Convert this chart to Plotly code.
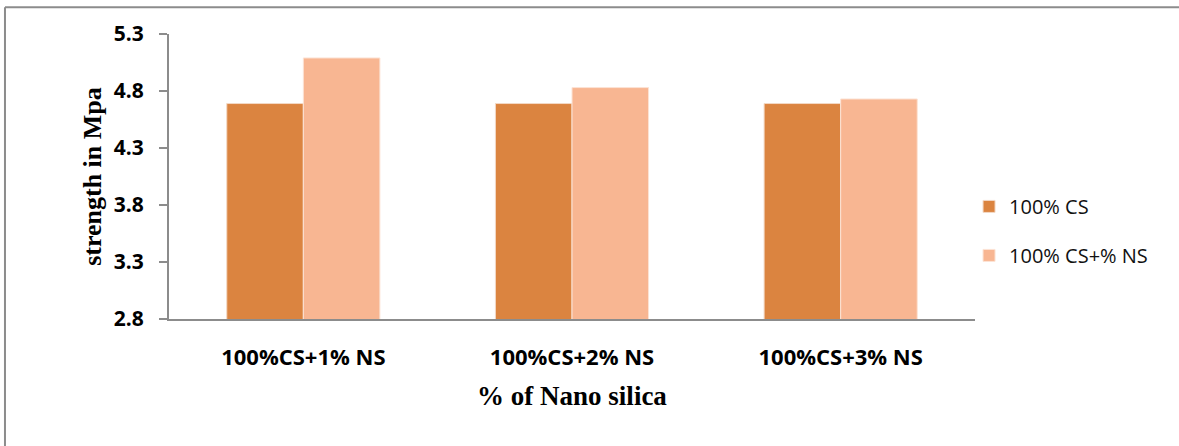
import plotly.graph_objects as go

# Mix designs along the x axis
categories = ["100%CS+1% NS", "100%CS+2% NS", "100%CS+3% NS"]

# Strength (MPa) per series
cs_only = [4.69, 4.69, 4.69]
cs_with_ns = [5.09, 4.83, 4.73]

series_names = ["100% CS", "100% CS+% NS"]
y_ticks = [2.8, 3.3, 3.8, 4.3, 4.8, 5.3]

dark_orange = "#DB8440"
light_orange = "#F8B692"
axis_grey = "#8C8C8C"

fig = go.Figure()
fig.add_trace(go.Bar(
    x=categories, y=cs_only, name=series_names[0],
    marker=dict(color=dark_orange, line=dict(color="#F3D9C6", width=1)),
    legendgroup="a",
))
fig.add_trace(go.Bar(
    x=categories, y=cs_with_ns, name=series_names[1],
    marker=dict(color=light_orange, line=dict(color="#FCE3D5", width=1)),
    legendgroup="b",
))

fig.update_layout(
    width=1179, height=446,
    margin=dict(l=169, r=204, t=34, b=127),
    paper_bgcolor="white", plot_bgcolor="white",
    barmode="group", bargap=0.43, bargroupgap=0,
    showlegend=True,
    legend=dict(
        x=0.9926, y=0.309, xanchor="left", yanchor="middle",
        font=dict(family="Open Sans, Liberation Sans, sans-serif", size=20, color="#111111"),
        tracegroupgap=20, itemwidth=30,
        bgcolor="rgba(0,0,0,0)",
    ),
    xaxis=dict(
        showline=True, linecolor=axis_grey, linewidth=2,
        ticks="", showgrid=False, ticklabelstandoff=18,
        tickfont=dict(family="Open Sans, Liberation Sans, sans-serif", size=22, color="black", weight="bold"),
        title=dict(text="% of Nano silica", standoff=16,
                   font=dict(family="Liberation Serif, Times New Roman, serif", size=27, color="black", weight="bold")),
    ),
    yaxis=dict(
        range=[2.8, 5.3], tickvals=y_ticks, ticktext=[f"{v:.1f}" for v in y_ticks],
        showline=True, linecolor=axis_grey, linewidth=2,
        ticks="outside", ticklen=8, tickcolor=axis_grey, tickwidth=2,
        showgrid=False, zeroline=False, ticklabelstandoff=11,
        tickfont=dict(family="Open Sans, Liberation Sans, sans-serif", size=21, color="black", weight="bold"),
        title=dict(text="strength in Mpa", standoff=5,
                   font=dict(family="Liberation Serif, Times New Roman, serif", size=26, color="black", weight="bold")),
    ),
    shapes=[
        dict(type="line", xref="paper", yref="paper", x0=-0.2035, x1=1.3, y0=1.094, y1=1.094,
             line=dict(color=axis_grey, width=2)),
        dict(type="line", xref="paper", yref="paper", x0=-0.2035, x1=-0.2035, y0=1.094, y1=-0.5,
             line=dict(color=axis_grey, width=2)),
    ],
)

fig.write_html("out.html")
